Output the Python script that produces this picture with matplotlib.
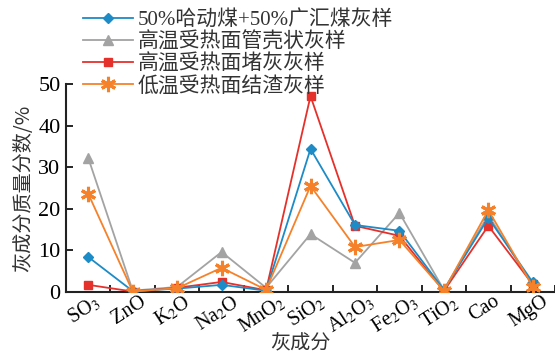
import matplotlib
matplotlib.use('Agg')
import matplotlib.pyplot as plt
import matplotlib.transforms as mtrans
import numpy as np

plt.rcParams['font.family'] = ['Liberation Serif', 'Noto Sans CJK SC']
plt.rcParams['mathtext.fontset'] = 'stix'

# 灰成分
comps = [r'SO$_3$', 'ZnO', r'K$_2$O', r'Na$_2$O', r'MnO$_2$', r'SiO$_2$',
         r'Al$_2$O$_3$', r'Fe$_2$O$_3$', r'TiO$_2$', 'Cao', 'MgO']

# 质量分数 (%)
mix_ash = [8.4, 0.2, 0.8, 1.7, 0.3, 34.4, 16.1, 14.7, 0.5, 17.8, 2.3]
shell_ash = [32.2, 0.3, 1.2, 9.6, 1.0, 13.9, 7.0, 19.0, 0.5, 18.5, 1.5]
block_ash = [1.7, 0.1, 1.0, 2.4, 0.4, 47.1, 15.9, 13.5, 0.2, 15.9, 1.8]
slag_ash = [23.6, 0.1, 0.9, 5.8, 0.5, 25.5, 10.8, 12.5, 0.3, 19.7, 1.3]

names = ['50%哈动煤+50%广汇煤灰样', '高温受热面管壳状灰样',
         '高温受热面堵灰灰样', '低温受热面结渣灰样']

x = np.arange(len(comps))

fig = plt.figure(figsize=(5.55, 3.56), dpi=100)
ax = fig.add_axes([0.119, 0.180, 0.881, 0.584])

l2, = ax.plot(x, shell_ash, color='#a3a3a3', marker='^', ms=7, lw=1.3, zorder=2)
l3, = ax.plot(x, block_ash, color='#e5312b', marker='s', ms=6, lw=1.3, zorder=3)
l1, = ax.plot(x, mix_ash, color='#1d8bc6', marker='D', ms=5.5, lw=1.3, zorder=4)
l4, = ax.plot(x, slag_ash, color='#f5822b', marker=(6, 2, 0), ms=11, mew=2.2,
              lw=1.3, zorder=5)

ax.set_xlim(-0.5, 10.5)
ax.set_ylim(0, 50)
ax.set_yticks([0, 10, 20, 30, 40, 50])
ax.set_xticks(x)
ax.set_xticklabels(comps, rotation=33, fontsize=14.5)
ax.set_xticks(np.arange(-0.5, 10.6, 1), minor=True)
ax.tick_params(axis='x', which='major', length=0, pad=0)
ax.tick_params(axis='x', which='minor', direction='in', length=5, width=1.2)
ax.tick_params(axis='y', direction='in', length=5, width=1.2, labelsize=16, pad=4)

shift = mtrans.ScaledTranslation(-4 / 100, 0, fig.dpi_scale_trans)
for lab in ax.get_xticklabels():
    lab.set_transform(lab.get_transform() + shift)

for s in ['top', 'right']:
    ax.spines[s].set_visible(False)
for s in ['left', 'bottom']:
    ax.spines[s].set_linewidth(1.5)
    ax.spines[s].set_color('#222222')

ax.set_ylabel('灰成分质量分数/%', fontsize=14.5, family='Noto Sans CJK SC',
              color='#333333', labelpad=3)
fig.text(300 / 555, 1 - 344 / 356, '灰成分', fontsize=14.5, family='Noto Sans CJK SC',
         color='#333333', ha='center', va='center')

leg = fig.legend([l1, l2, l3, l4], names, loc='upper left',
                 bbox_to_anchor=(0.135, 0.995), frameon=False,
                 prop={'family': ['Liberation Serif', 'Noto Sans CJK SC'], 'size': 15},
                 handlelength=2.4, handletextpad=0.2, labelspacing=0.1,
                 borderaxespad=0)
for t in leg.get_texts():
    t.set_color('#333333')

fig.savefig('out.png', dpi=100)
